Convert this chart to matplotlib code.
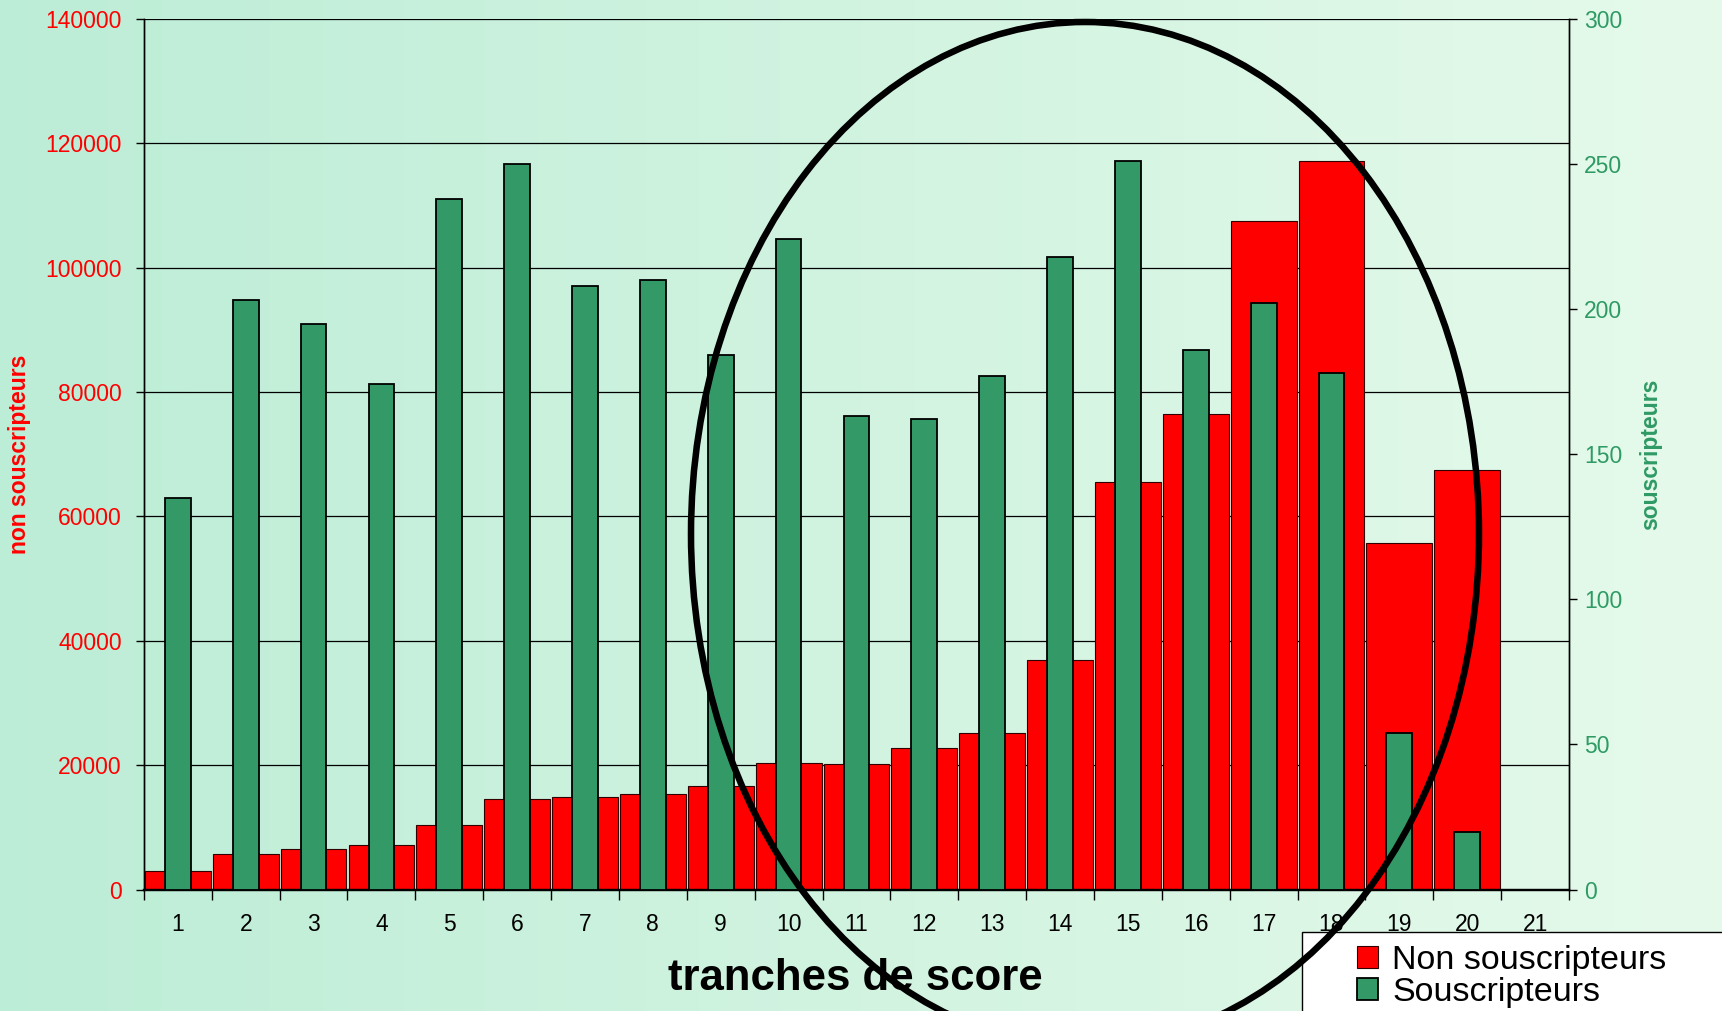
import matplotlib
matplotlib.use("Agg")
import matplotlib.pyplot as plt
import numpy as np
from matplotlib.patches import Ellipse, Rectangle

plt.rcParams['font.family'] = ['Liberation Sans', 'DejaVu Sans']

# tranches de score (21 tranches, la derniere vide)
tranches = list(range(1, 22))
# nombre de non souscripteurs par tranche
non_souscripteurs = [3000, 5700, 6600, 7150, 10400, 14550, 14900, 15400, 16600, 20400,
                     20150, 22800, 25150, 36950, 65450, 76450, 107500, 117200, 55770, 67500]
# nombre de souscripteurs par tranche
souscripteurs = [135, 203, 195, 174, 238, 250, 208, 210, 184, 224,
                 163, 162, 177, 218, 251, 186, 202, 178, 54, 20]

RED = '#FF0000'
GREEN = '#339966'
GREEN_TXT = '#2E9A64'

W, H = 1722, 1011
fig = plt.figure(figsize=(W / 100, H / 100), dpi=100)

# fond menthe (degrade simple)
bg = fig.add_axes([0, 0, 1, 1], zorder=-10)
left_c = np.array([0.74, 0.93, 0.84])
right_c = np.array([0.90, 0.98, 0.92])
t = np.linspace(0, 1, 64)[None, :, None]
grad = left_c * (1 - t) + right_c * t
grad = np.repeat(grad, 8, axis=0)
bg.imshow(grad, aspect='auto', extent=[0, 1, 0, 1])
bg.axis('off')

ax = fig.add_axes([143.9 / W, 1 - 889.6 / H, (1569 - 143.9) / W, (889.6 - 18.7) / H])
ax.patch.set_alpha(0)
ax2 = ax.twinx()

x = np.array(tranches[:len(non_souscripteurs)])
bars_red = ax.bar(x, non_souscripteurs, width=0.97, color=RED, edgecolor='#300000',
                  linewidth=0.8, zorder=2, label='Non souscripteurs')
bars_green = ax2.bar(x, souscripteurs, width=0.38, color=GREEN, edgecolor='black',
                     linewidth=1.3, zorder=3, label='Souscripteurs')

ax.set_xlim(0.5, len(tranches) + 0.5)
ax.set_ylim(0, 140000)
ax2.set_ylim(0, 300)
ax.set_yticks(np.arange(0, 140001, 20000))
ax2.set_yticks(np.arange(0, 301, 50))

ax.yaxis.grid(True, color='black', linewidth=0.9, zorder=0)
ax.set_axisbelow(True)

# ticks entre les tranches, etiquettes au centre
ax.set_xticks(np.arange(0.5, len(tranches) + 1, 1))
ax.set_xticklabels([])
ax.set_xticks(tranches, minor=True)
ax.set_xticklabels([str(c) for c in tranches], minor=True)
ax.tick_params(axis='x', which='major', length=7, width=1, direction='out')
ax.tick_params(axis='x', which='minor', length=0, pad=17, labelsize=16.5)

ax.tick_params(axis='y', length=6, width=1, pad=10, labelsize=16.5, labelcolor=RED)
ax2.tick_params(axis='y', length=6, width=1, pad=5, labelsize=16.5, labelcolor=GREEN_TXT)

for a in (ax, ax2):
    a.spines['top'].set_visible(False)
    a.spines['left'].set_linewidth(1)
    a.spines['right'].set_linewidth(1)
    a.spines['bottom'].set_linewidth(1.6)

ax.set_ylabel('non souscripteurs', color=RED, fontsize=16.5, fontweight='bold')
ax.yaxis.set_label_coords(-0.079, 0.5)
ax2.set_ylabel('souscripteurs', color=GREEN_TXT, fontsize=16.5, fontweight='bold')
ax2.yaxis.set_label_coords(1.049, 0.5)

fig.text(855 / W, 1 - 979 / H, 'tranches de score', ha='center', va='center',
         fontsize=31.5, fontweight='bold')

# cadre de legende (coupe par le bord de l'image)
fig.add_artist(Rectangle((1302 / W, -0.05), 0.4, (1 - 932 / H) + 0.05,
                         transform=fig.transFigure, facecolor='white',
                         edgecolor='black', linewidth=1, zorder=4))
fig.legend(handles=[bars_red, bars_green], loc='upper left',
           bbox_to_anchor=(1357 / W, 1 - 945 / H), frameon=False, fontsize=24.5,
           handlelength=0.62, handleheight=0.62, handletextpad=0.42,
           labelspacing=0.02, borderpad=0, borderaxespad=0)

# ellipse noire
fig.add_artist(Ellipse((1085 / W, 1 - 534 / H), 788 / W, 1024 / H,
                       transform=fig.transFigure, fill=False, edgecolor='black',
                       linewidth=4.7, zorder=10))

fig.savefig('out.png', dpi=100)
